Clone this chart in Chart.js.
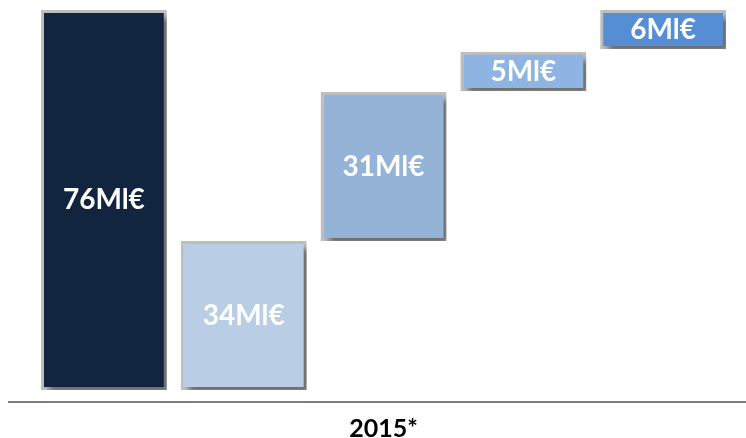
<!DOCTYPE html>
<html>
<head>
<meta charset="utf-8">
<script src="https://cdn.jsdelivr.net/npm/chart.js@4.4.0/dist/chart.umd.min.js"></script>
<style>
  html, body { margin: 0; padding: 0; background: #fff; }
  #wrap { width: 746px; height: 438px; position: relative; }
</style>
</head>
<body>
<div id="wrap"><canvas id="chart"></canvas></div>
<script>
// bar labels (Ml€) and where each floating bar sits
const categories = ['', '', '2015*', '', ''];
const values = [76, 34, 31, 5, 6];
const barBottoms = [0, 0, 29.8, 59.8, 68.2];
const barTops = [76, 29.8, 59.6, 67.6, 76];
const barColors = ['#12253f', '#b9cde5', '#95b3d7', '#8db4e2', '#558ed5'];

const shadowPlugin = {
    id: 'shadow',
    beforeDatasetsDraw(chart) {
        const ctx = chart.ctx;
        ctx.save();
        ctx.shadowColor = 'rgba(0,0,0,0.45)';
        ctx.shadowBlur = 6;
        ctx.shadowOffsetX = 5;
        ctx.shadowOffsetY = 5;
    },
    afterDatasetsDraw(chart) {
        chart.ctx.restore();
    }
};

const labelPlugin = {
    id: 'barLabels',
    afterDatasetsDraw(chart) {
        const ctx = chart.ctx;
        const meta = chart.getDatasetMeta(0);
        ctx.save();
        ctx.fillStyle = '#ffffff';
        ctx.font = 'bold 28px Lato';
        ctx.textAlign = 'center';
        ctx.textBaseline = 'middle';
        meta.data.forEach((bar, i) => {
            const mid = (bar.y + bar.base) / 2;
            ctx.fillText(values[i] + 'Ml€', bar.x, mid);
        });
        ctx.restore();
    }
};

const baselinePlugin = {
    id: 'baseline',
    afterDraw(chart) {
        const ctx = chart.ctx;
        const y = chart.chartArea.bottom;
        ctx.save();
        ctx.strokeStyle = '#7f7f7f';
        ctx.lineWidth = 2;
        ctx.beginPath();
        ctx.moveTo(8, y);
        ctx.lineTo(chart.width, y);
        ctx.stroke();
        ctx.restore();
    }
};

const ctx = document.getElementById('chart').getContext('2d');
new Chart(ctx, {
    type: 'bar',
    data: {
        labels: categories,
        datasets: [{
            data: barBottoms.map((b, i) => [b, barTops[i]]),
            backgroundColor: barColors,
            borderColor: '#bfbfbf',
            borderWidth: 3,
            borderSkipped: false,
            barPercentage: 0.9,
            categoryPercentage: 1.0
        }]
    },
    options: {
        responsive: true,
        maintainAspectRatio: false,
        animation: false,
        layout: { padding: { left: 34, right: 13, top: 0, bottom: 0 } },
        plugins: {
            legend: { display: false },
            tooltip: { enabled: false }
        },
        scales: {
            x: {
                grid: { display: false, drawTicks: false },
                border: { display: false },
                ticks: {
                    padding: 12,
                    color: '#000',
                    font: { family: 'Lato', size: 25, weight: 'bold' }
                },
                afterFit(scale) { scale.height = 36; }
            },
            y: {
                display: false,
                min: -2.4,
                max: 78
            }
        }
    },
    plugins: [shadowPlugin, labelPlugin, baselinePlugin]
});
</script>
</body>
</html>
